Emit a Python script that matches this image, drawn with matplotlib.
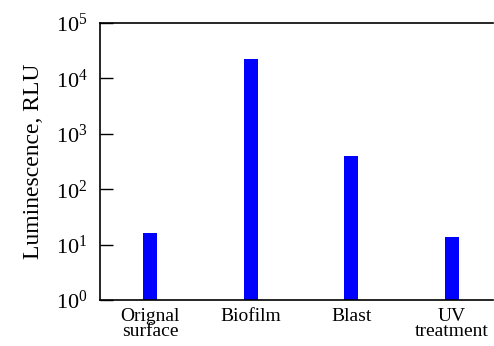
import matplotlib
matplotlib.use("Agg")
import matplotlib.pyplot as plt
from matplotlib.ticker import FixedLocator, FuncFormatter, NullLocator

categories = ["Orignal\nsurface", "Biofilm", "Blast", "UV\ntreatment"]
values = [15, 22000, 400, 13]
yticks = [1, 10, 100, 1000, 10000, 100000]

plt.rcParams['font.family'] = ['Liberation Serif', 'DejaVu Serif']
plt.rcParams['mathtext.fontset'] = 'custom'
plt.rcParams['mathtext.rm'] = 'Liberation Serif'
plt.rcParams['mathtext.it'] = 'Liberation Serif:italic'
plt.rcParams['mathtext.default'] = 'regular'

fig = plt.figure(figsize=(4.94, 3.46), dpi=100)
ax = fig.add_axes([100/494, 1 - 300/346, 393/494, 277/346])

x = list(range(len(categories)))
ax.bar(x, values, width=0.14, color='#0000ff', bottom=1)
ax.set_yscale('log')
ax.set_ylim(1, 1e5)
ax.set_xlim(-0.5, 3.41)

ax.yaxis.set_major_locator(FixedLocator(yticks))
ax.yaxis.set_minor_locator(NullLocator())
import math
ax.yaxis.set_major_formatter(FuncFormatter(lambda v, p: r'$10^{%d}$' % round(math.log10(v))))
ax.tick_params(axis='y', direction='in', length=9, width=1, labelsize=16, pad=9)
ax.set_xticks(x)
ax.set_xticklabels(categories, fontsize=14, linespacing=0.85)
ax.tick_params(axis='x', length=0, pad=6)

ax.spines['right'].set_visible(False)
for s in ['left', 'bottom', 'top']:
    ax.spines[s].set_linewidth(1.2)

ax.set_ylabel('Luminescence, RLU', fontsize=17, labelpad=8)

fig.savefig('out.png', dpi=100)
